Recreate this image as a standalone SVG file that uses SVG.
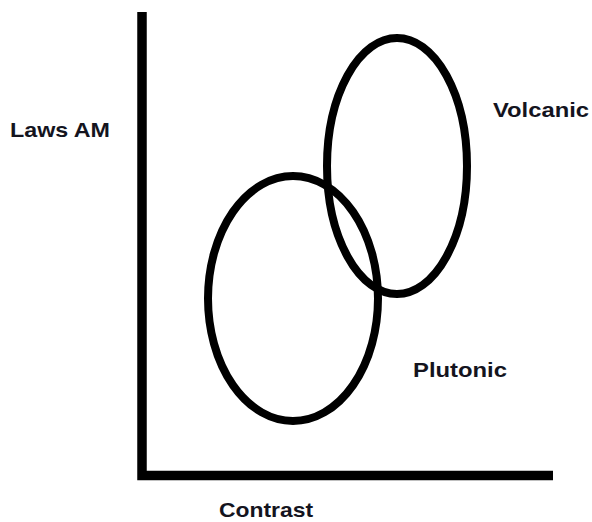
<svg xmlns="http://www.w3.org/2000/svg" width="592" height="522" viewBox="0 0 592 522">
<style>
.ax{stroke:#000;stroke-width:9.5;fill:none}
.el{stroke:#000;stroke-width:8;fill:none}
.lb{font-family:"Liberation Sans",Arial,sans-serif;font-weight:bold;font-size:21px;fill:#14141e}
</style>
<rect width="592" height="522" fill="#fff"/>
<g id="axes">
<path class="ax" d="M142 12 V475.5 H553"/>
</g>
<g id="plutonic">
<ellipse class="el" cx="293" cy="298.5" rx="85" ry="122.5"/>
<text class="lb" x="413" y="377" textLength="94" lengthAdjust="spacingAndGlyphs">Plutonic</text>
</g>
<g id="volcanic">
<ellipse class="el" cx="397" cy="166" rx="70" ry="128"/>
<text class="lb" x="493" y="117" textLength="96" lengthAdjust="spacingAndGlyphs">Volcanic</text>
</g>
<g id="y-label">
<text class="lb" x="10" y="137" textLength="100" lengthAdjust="spacingAndGlyphs">Laws AM</text>
</g>
<g id="x-label">
<text class="lb" x="219" y="517" textLength="94" lengthAdjust="spacingAndGlyphs">Contrast</text>
</g>
</svg>
